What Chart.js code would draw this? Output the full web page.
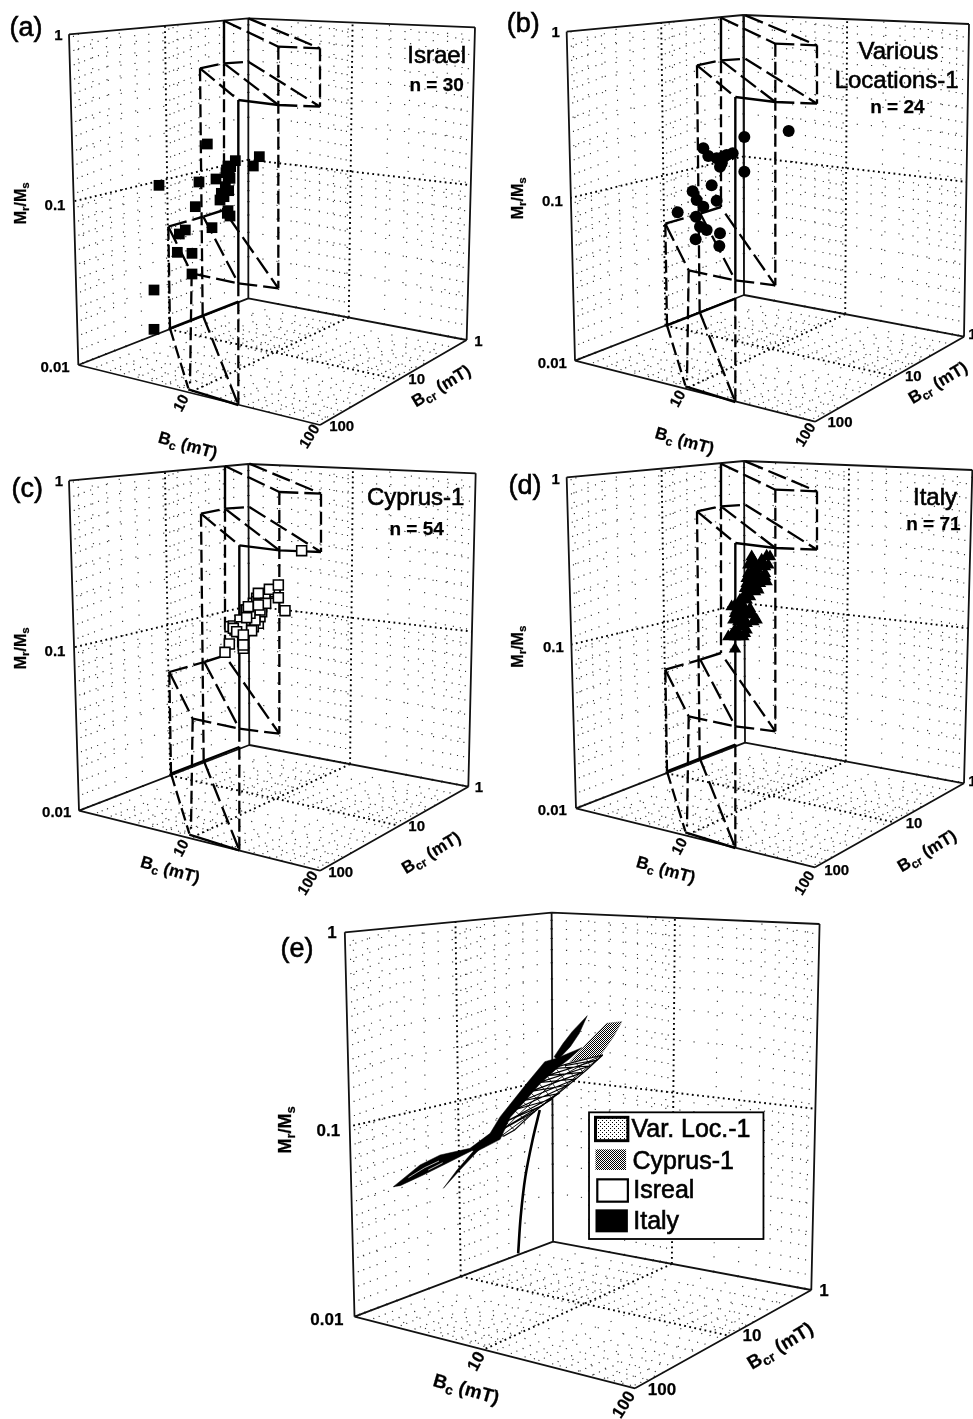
<!DOCTYPE html>
<html><head><meta charset="utf-8">
<script src="https://cdn.jsdelivr.net/npm/chart.js@4"></script>
<style>html,body{margin:0;background:#fff}#p{position:relative;width:973px;height:1419px;overflow:hidden}canvas{position:absolute}</style>
</head><body><div id="p"></div>
<script>
// Axis ticks
const bcTicks=[1,10,100], bcrTicks=[1,10,100], ratioTicks=[0.01,0.1,1];
const minorMult=[2,3,4,5,6,7,8,9];

// Marks in each panel's projected plot units
const israelX=[462,462,576,532,576,538,556,636,690,684,586,660,672,686,477,597,690,648,678,684,706,760,778,622,682,664,676,680,692,688];
const israelY=[988,870,822,757,760,702,690,683,648,632,620,600,590,572,556,546,535,537,518,498,482,498,470,432,640,580,560,510,500,520];
const variousX=[688,617,690,650,630,618,563,680,640,620,608,665,690,695,695,680,655,640,700,710,728,763,763,896];
const variousY=[738,718,700,690,680,650,637,602,620,600,574,556,500,490,485,475,468,445,470,465,460,515,411,393];
const cyprusX=[760,790,770,815,740,775,760,745,690,705,735,770,755,780,735,745,720,728,730,760,785,825,750,715,765,740,795,770,725,700,735,785,775,780,720,725,700,710,755,730,730,688,675,765,750,740,745,775,797,775,808,835,835,855,905];
const cyprusY=[475,450,445,430,520,520,530,530,530,540,540,490,500,500,480,515,525,575,595,460,470,425,525,535,495,480,440,455,545,528,510,485,465,480,510,530,535,545,542,555,585,582,607,510,490,503,470,430,460,465,418,443,405,482,302];
const italyX=[735,715,745,765,735,760,740,735,770,780,795,750,765,775,740,755,745,785,765,735,755,770,795,765,780,790,830,805,825,785,800,820,785,830,815,840,775,795,770,810,825,780,750,760,790,800,815,805,770,785,835,825,790,810,795,775,800,780,760,750,770,735,725,760,745,770,790,800,730,740,725];
const italyY=[597,560,560,550,540,530,500,465,450,475,505,485,510,495,480,465,515,490,475,490,500,430,425,415,400,385,395,375,370,365,355,345,320,318,330,320,345,340,385,400,350,440,450,440,410,395,385,420,400,375,345,380,330,350,370,370,410,415,490,530,540,560,555,560,545,520,515,510,510,470,470];

// Region outlines shared by panels a to d: [x1,y1,x2,y2]
const regionDashed=[[672,62,835,140],[745,55,960,145],[835,140,960,145],[960,145,960,320],[835,315,960,320],[672,190,672,630],[600,205,672,190],[672,190,745,185],[600,205,715,300],[672,190,835,315],[745,185,960,320],[600,205,608,945],[835,140,835,865],[505,680,610,650],[505,680,575,820],[610,650,715,850],[685,650,835,865],[575,820,715,850],[715,850,835,865],[505,680,510,985],[575,820,570,1150],[510,985,565,1165],[608,945,715,1215],[715,850,715,1215]];
const regionSolid=[[672,62,672,190],[715,300,715,850],[715,300,835,315],[610,650,672,630],[510,985,715,905],[565,1168,715,1215]];

// Panel e surfaces
const italySpike=[[882,347],[860,400],[835,440],[800,480],[790,470],[815,430],[840,395]];
const italyBand=[[797,475],[764,485],[714,550],[677,600],[640,650],[612,700],[556,745],[570,757],[640,718],[668,652],[710,602],[750,552],[800,503],[832,477],[867,443]];
const cyprusSurface=[[978,365],[936,370],[881,430],[834,485],[918,467],[955,410]];
const variousSurface=[[925,465],[850,485],[800,500],[746,550],[705,600],[663,650],[625,703],[650,708],[680,690],[720,650],[750,622],[790,590],[830,555],[880,510]];
const meshTop=[[632,697],[655,665],[678,630],[700,603],[722,575],[746,548],[770,527],[795,505],[820,497],[850,487],[880,478],[905,472]];
const meshBottom=[[650,705],[680,690],[710,660],[735,635],[760,615],[785,597],[805,580],[830,555],[850,537],[870,517],[890,498],[910,480]];
const meshLong=[[[640,700],[690,645],[735,600],[780,555],[825,520],[875,490],[925,465]],[[648,704],[710,655],[755,618],[798,580],[845,535],[885,500],[925,465]]];
const wingLeft=[[343,860],[417,795],[473,765],[556,745],[565,750],[482,795],[426,825],[362,857]];
const wingSlits=[[[385,833],[430,803],[470,783]],[[440,810],[480,788]]];
const wingLower=[[482,865],[520,810],[570,748],[585,745],[530,808]];
const israelCurve=[[690,1060],[697,950],[710,830],[730,720],[750,630]];

function makePattern(on,step){const c=document.createElement('canvas');c.width=c.height=step;const g=c.getContext('2d');g.fillStyle='#fff';g.fillRect(0,0,step,step);g.fillStyle=on;g.fillRect(0,0,1,1);g.fillRect(step/2,step/2,1,1);return document.createElement('canvas').getContext('2d').createPattern(c,'repeat');}
const stippleDark=makePattern('#000',2), stippleLight=makePattern('#000',4);

const INK='#111';
const warp=(x,m)=>x<.5?x/.5*m:m+(x-.5)/.5*(1-m);
function projector(f){
  const lerp2=(a,b,c,d,u,v)=>(1-u)*(1-v)*a+u*(1-v)*b+(1-u)*v*c+u*v*d;
  return (u,v,w)=>{const U=warp(u,.46),V=warp(v,.465),W=warp(w,.495);
    const gx=lerp2(f.B[0],f.R[0],f.L[0],f.F[0],U,V), gy=lerp2(f.B[1],f.R[1],f.L[1],f.F[1],U,V);
    const h=(p,q)=>f[p][1]-f[q][1];
    const hx=lerp2(f.TB[0]-f.B[0],f.TR[0]-f.R[0],f.TL[0]-f.L[0],0,U,V), hy=lerp2(h('TB','B'),h('TR','R'),h('TL','L'),(h('TL','L')+h('TR','R'))/2,U,V);
    return {x:gx+W*hx,y:gy+W*hy};};
}
const lineDs=(pts,o)=>Object.assign({type:'scatter',data:pts,showLine:true,pointRadius:0,borderColor:INK,borderWidth:1.5,tension:0,spanGaps:false},o);
const gap={x:null,y:null};
function gridDatasets(f){
  const P=projector(f), frac=(v,lo,hi)=>(Math.log10(v)-Math.log10(lo))/(Math.log10(hi)-Math.log10(lo));
  const major=[],minor=[];
  const add=(arr,a,b)=>{arr.push(a,b,gap);};
  const vals=(ticks)=>{const out=[];for(let i=0;i<ticks.length-1;i++)for(const m of minorMult)out.push(ticks[i]*m);return out;};
  const addU=(arr,t)=>{add(arr,P(t,0,0),P(t,0,1));add(arr,P(t,0,0),P(t,1,0));};
  const addV=(arr,t)=>{add(arr,P(0,t,0),P(0,t,1));add(arr,P(0,t,0),P(1,t,0));};
  const addW=(arr,t)=>{add(arr,P(0,0,t),P(0,1,t));add(arr,P(0,0,t),P(1,0,t));};
  addU(major,frac(bcTicks[1],1,100));addV(major,frac(bcrTicks[1],1,100));addW(major,frac(ratioTicks[1],.01,1));
  vals(bcTicks).forEach(v=>addU(minor,frac(v,1,100)));
  vals(bcrTicks).forEach(v=>addV(minor,frac(v,1,100)));
  vals(ratioTicks).forEach(v=>addW(minor,frac(v,.01,1)));
  return [lineDs(minor,{borderWidth:1.1,borderColor:'#333',borderDash:[1.2,13]}),lineDs(major,{borderWidth:1.9,borderColor:'#000',borderDash:[1.8,3.4]})];
}
function frameDataset(f){
  const {TL,TB,TR,L,B,R,F}=f, p=a=>({x:a[0],y:a[1]});
  const s=[];[[TL,TB],[TB,TR],[TL,L],[TB,B],[TR,R],[L,B],[B,R],[L,F],[F,R]].forEach(([a,b])=>s.push(p(a),p(b),gap));
  return lineDs(s,{borderWidth:1.8});
}
function segPts(list,dx,dy){const s=[];list.forEach(q=>s.push({x:q[0]+dx,y:q[1]+dy},{x:q[2]+dx,y:q[3]+dy},gap));return s;}
const asPts=a=>a.map(q=>({x:q[0],y:q[1]}));
const closed=a=>asPts(a.concat([a[0]]));
const zipPts=(xs,ys)=>xs.map((x,i)=>({x,y:ys[i]}));

const polyFillPlugin={id:'polyFill',beforeDatasetDraw(chart,args){
  const ds=chart.data.datasets[args.index]; if(!ds.polyFill)return;
  const c=chart.ctx,pts=args.meta.data;c.save();c.beginPath();pts.forEach((p,i)=>i?c.lineTo(p.x,p.y):c.moveTo(p.x,p.y));c.closePath();c.fillStyle=ds.polyFill;c.fill();c.restore();
}};
const FONT='"Liberation Sans", Arial, sans-serif';
const textPlugin={id:'panelText',afterDatasetsDraw(chart,_,o){
  const c=chart.ctx,X=chart.scales.x,Y=chart.scales.y;
  (o.boxes||[]).forEach(b=>{c.save();const x0=X.getPixelForValue(b.x0),x1=X.getPixelForValue(b.x1),y0=Y.getPixelForValue(b.y0),y1=Y.getPixelForValue(b.y1);
    if(b.fill){c.fillStyle=b.fill;c.fillRect(x0,y0,x1-x0,y1-y0);} if(b.lw){c.strokeStyle='#000';c.lineWidth=b.lw;c.strokeRect(x0,y0,x1-x0,y1-y0);}c.restore();});
  (o.items||[]).forEach(t=>{
    const runs=typeof t.t==='string'?[[t.t,0]]:t.t, w=t.w||'normal', sz=t.s;
    c.save();c.translate(X.getPixelForValue(t.x),Y.getPixelForValue(t.y));c.rotate((t.r||0)*Math.PI/180);c.fillStyle='#000';c.strokeStyle='#000';c.lineWidth=w==='normal'?.6:.25;c.textBaseline='middle';c.textAlign='left';
    const fnt=s=>w+' '+s+'px '+FONT;let tot=0;
    runs.forEach(r=>{c.font=fnt(r[1]?sz*.72:sz);tot+=c.measureText(r[0]).width;});
    let px=t.left?0:-tot/2;
    runs.forEach(r=>{c.font=fnt(r[1]?sz*.72:sz);c.fillText(r[0],px,r[1]?sz*.28:0);c.strokeText(r[0],px,r[1]?sz*.28:0);px+=c.measureText(r[0]).width;});
    c.restore();});
}};
const MRMS=[['M',0],['r',1],['/M',0],['s',1]], BC=[['B',0],['c',1],[' (mT)',0]], BCR=[['B',0],['cr',1],[' (mT)',0]];
const tk=(t,x,y,r,s)=>({t,x,y,r:r||0,s:s||15,w:'bold'});
function labels(L,s=15,a=17,m=16){return [
 {t:L.tag[0],x:L.tag[1],y:L.tag[2],s:27},
 tk('1',...L.t1,0,s),tk('0.1',...L.t01,0,s),tk('0.01',...L.t001,0,s),
 tk('10',...L.c10,-62,s),tk('100',...L.c100,-58,s),
 tk('10',...L.r10,0,s),tk('100',...L.r100,0,s),tk('1',...L.r1,0,s),
 {t:BC,x:L.bc[0],y:L.bc[1],r:16,s:a,w:'bold'},{t:BCR,x:L.bcr[0],y:L.bcr[1],r:-31,s:a,w:'bold'},
 {t:MRMS,x:L.mr[0],y:L.mr[1],r:-90,s:m,w:'bold'}];}

function makeChart(left,top,W,H,xMax,yMax,datasets,opts){
  const cv=document.createElement('canvas');cv.width=W;cv.height=H;cv.style.cssText=`left:${left}px;top:${top}px;width:${W}px;height:${H}px`;
  document.getElementById('p').appendChild(cv);
  new Chart(cv,{type:'scatter',data:{datasets:datasets.slice().reverse()},plugins:[polyFillPlugin,textPlugin],
   options:{responsive:false,animation:false,devicePixelRatio:1,layout:{padding:0,autoPadding:false},events:[],
    scales:{x:{type:'linear',min:0,max:xMax,display:false},y:{type:'linear',min:0,max:yMax,reverse:true,display:false}},
    plugins:{legend:{display:false},tooltip:{enabled:false},title:{display:false},panelText:opts}}});
}
const isUpright=q=>Math.abs(q[3]-q[1])>3*Math.abs(q[2]-q[0]);
function regionSets(dx,dy){return [
  lineDs(segPts(regionDashed.filter(isUpright),dx,dy),{borderWidth:2.3,borderDash:[13,5],borderColor:'#000'}),
  lineDs(segPts(regionDashed.filter(q=>!isUpright(q)),dx,dy),{borderWidth:2.3,borderDash:[19,6],borderColor:'#000'}),
  lineDs(segPts(regionSolid,dx,dy),{borderWidth:2.4,borderColor:'#000'})];}
function panel(left,top,W,H,f,dx,dy,marks,texts){
  const ds=[...gridDatasets(f),frameDataset(f),...regionSets(dx,dy),marks];
  makeChart(left,top,W,H,W*3,H*3,ds,{items:texts});
}
const pt=(xs,ys,o)=>Object.assign({type:'scatter',data:zipPts(xs,ys),showLine:false,backgroundColor:'#000',borderColor:'#000',borderWidth:0},o);

panel(0,0,490,470,{TL:[207,103],TB:[745,55],TR:[1425,82],L:[235,1095],B:[745,895],R:[1400,1020],F:[960,1275]},0,0,
 pt(israelX,israelY,{pointStyle:'rect',pointRadius:7.6}),
 [...labels({tag:['(a)',78,85],t1:[175,108],t01:[165,617],t001:[165,1105],c10:[545,1210],c100:[930,1310],r10:[1250,1140],r100:[1025,1282],r1:[1435,1025],bc:[563,1338],bcr:[1325,1160],mr:[65,610]}),
  {t:'Israel',x:1310,y:168,s:24},{t:'n = 30',x:1310,y:258,s:19,w:'bold'}]);
panel(490,0,483,470,{TL:[230,95],TB:[760,45],TR:[1437,72],L:[255,1082],B:[762,885],R:[1422,1010],F:[975,1265]},21,-9,
 pt(variousX,variousY,{pointStyle:'circle',pointRadius:6}),
 [...labels({tag:['(b)',100,75],t1:[197,100],t01:[187,605],t001:[187,1092],c10:[565,1197],c100:[948,1305],r10:[1270,1130],r100:[1050,1270],r1:[1447,1005],bc:[583,1325],bcr:[1345,1150],mr:[85,595]}),
  {t:'Various',x:1225,y:157,s:24},{t:'Locations-1',x:1220,y:245,s:24},{t:'n = 24',x:1222,y:324,s:19,w:'bold'}]);
panel(0,450,490,450,{TL:[207,92],TB:[745,42],TR:[1427,70],L:[237,1082],B:[748,885],R:[1405,1010],F:[960,1262]},3,-14,
 pt(cyprusX,cyprusY,{pointStyle:'rect',pointRadius:7,backgroundColor:'#fff',borderWidth:1.6,borderColor:'#000'}),
 [...labels({tag:['(c)',82,118],t1:[177,97],t01:[165,605],t001:[170,1090],c10:[545,1195],c100:[925,1300],r10:[1250,1130],r100:[1022,1270],r1:[1437,1015],bc:[510,1262],bcr:[1295,1210],mr:[65,595]}),
  {t:'Cyprus-1',x:1247,y:145,s:24},{t:'n = 54',x:1250,y:238,s:19,w:'bold'}]);
panel(490,450,483,450,{TL:[230,82],TB:[762,33],TR:[1447,60],L:[258,1075],B:[765,878],R:[1422,1000],F:[975,1252]},21,-21,
 pt(italyX,italyY,{pointStyle:'triangle',pointRadius:7.2}),
 [...labels({tag:['(d)',105,110],t1:[197,90],t01:[190,595],t001:[187,1082],c10:[570,1190],c100:[945,1300],r10:[1272,1122],r100:[1040,1262],r1:[1447,995],bc:[527,1262],bcr:[1312,1205],mr:[85,590]}),
  {t:'Italy',x:1335,y:145,s:24},{t:'n = 71',x:1330,y:225,s:19,w:'bold'}]);

// Panel e
const fE={TL:[208,97],TB:[783,38],TR:[1528,72],L:[235,1250],B:[787,1025],R:[1505,1170],F:[1015,1465]};
const meshCross=[];meshTop.forEach((p,i)=>{const q=meshBottom[i];meshCross.push({x:p[0],y:p[1]},{x:q[0],y:q[1]},gap);});
const meshHatch=[];meshTop.forEach((p,i)=>{[3,5].forEach(k=>{const q=meshBottom[i+k];if(q)meshHatch.push({x:p[0],y:p[1]},{x:q[0],y:q[1]},gap);});});
const black={polyFill:'#000',borderWidth:.5,borderColor:'#000'};
const eSets=[...gridDatasets(fE),frameDataset(fE),
 lineDs(closed(cyprusSurface),{polyFill:stippleDark,borderWidth:.5,borderColor:'#555'}),
 lineDs(asPts(israelCurve),{borderWidth:2.6,borderColor:'#000',tension:.3}),
 lineDs(closed(variousSurface),{polyFill:'#fff',borderWidth:1.2,borderColor:'#000'}),
 ...meshLong.map(a=>lineDs(asPts(a),{borderWidth:.9,borderColor:'#000'})),
 lineDs(meshHatch,{borderWidth:1.2,borderColor:'#000'}),
 lineDs(meshCross,{borderWidth:.8,borderColor:'#000'}),
 lineDs(closed(italyBand),black),lineDs(closed(italySpike),black),lineDs(closed(wingLower),black),lineDs(closed(wingLeft),black),
 ...wingSlits.map(a=>lineDs(asPts(a),{borderWidth:.7,borderColor:'#fff'}))];
makeChart(270,900,560,519,1557,1557,eSets,{
 boxes:[{x0:887,y0:637,x1:1372,y1:1017,fill:'#fff',lw:1.8},
  {x0:905,y0:652,x1:995,y1:722,fill:stippleLight,lw:3},
  {x0:905,y0:748,x1:990,y1:810,fill:stippleDark,lw:0},
  {x0:910,y0:838,x1:995,y1:905,fill:'#fff',lw:2.2},
  {x0:905,y0:928,x1:995,y1:997,fill:'#000',lw:0}],
 items:[...labels({tag:['(e)',75,150],t1:[172,100],t01:[162,695],t001:[158,1260],c10:[575,1385],c100:[985,1515],r10:[1340,1310],r100:[1090,1472],r1:[1540,1175],bc:[545,1470],bcr:[1420,1340],mr:[45,690]},17,19,18),
  {t:'Var. Loc.-1',x:1005,y:690,s:25,left:1},{t:'Cyprus-1',x:1008,y:785,s:25,left:1},{t:'Isreal',x:1010,y:872,s:25,left:1},{t:'Italy',x:1010,y:965,s:25,left:1}]});
</script></body></html>
